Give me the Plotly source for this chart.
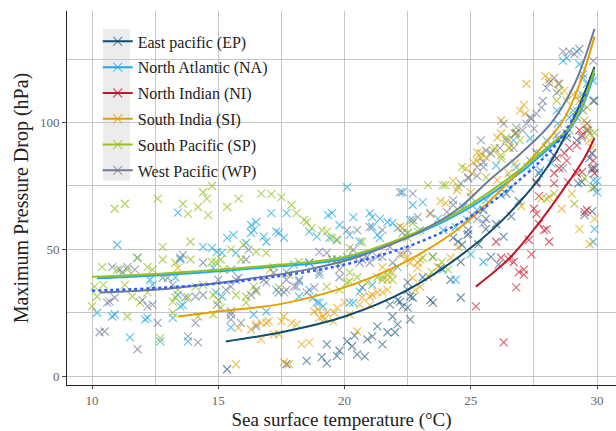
import plotly.graph_objects as go

# ---- observations: (sea surface temperature in °C, maximum pressure drop in hPa) ----
EP_POINTS = [
    (15.35, 2.7), (17.7, 4.7), (18.5, 6), (19.1, 7.5), (19.3, 12.5), (19.7, 8), (19.8, 10), (20.1, 13.7),
    (20.3, 11.8), (20.5, 8.6), (20.8, 7.8), (20.9, 14.5), (21.1, 15.7), (21.3, 19.6), (21.5, 12.5),
    (21.7, 17.3), (22.0, 17.3), (22.1, 20.4), (22.6, 22.4), (22.5, 27), (22.2, 29.4), (22.6, 31.4),
    (21.8, 28.2), (22.1, 30), (22.5, 34), (22.7, 31), (20.7, 35), (21.9, 23.5), (22.3, 27.5), (23.5, 29),
    (24.2, 38), (24.6, 45), (23.8, 42.7), (23.1, 39), (22.5, 37), (23.5, 47), (24.9, 56), (24.5, 53),
    (24.3, 54.5), (24.65, 51.8), (24.9, 57.6), (25.6, 62), (25.5, 65.5), (25.3, 52), (25.6, 58), (26.0, 60),
    (26.3, 55), (26.6, 63), (26.9, 69), (25.8, 47), (26.4, 72), (27.6, 76), (27.7, 80), (28.3, 87),
    (28.8, 94), (29.6, 99.6), (29.85, 108.6), (29.8, 88), (29.9, 82), (27.6, 88), (28.0, 90), (29.25, 76),
    (29.5, 63.5), (29.8, 65), (29.7, 86), (29.9, 74.5), (29.4, 76.5), (28.8, 95.7), (29.2, 93), (24.6, 31),
    (23.4, 30), (26.1, 44), (19.3, 5), (20.4, 16),
]
NA_POINTS = [
    (11.0, 51.8), (10.2, 25), (10.8, 23.5), (11.5, 15.3), (12.1, 22.4), (12.7, 13.7), (13.4, 64.5),
    (13.5, 46), (13.2, 23), (13.8, 13.7), (13.5, 27.5), (14.4, 51), (14.95, 49), (14.8, 42.7),
    (15.35, 54.5), (15.6, 55.7), (15.7, 48.6), (16.3, 59.6), (16.4, 57.6), (16.9, 53), (17.1, 64.3),
    (17.3, 57), (17.6, 54.5), (17.7, 64.3), (15.5, 19.2), (16.9, 25.5), (18.2, 37.3), (18.6, 34),
    (18.75, 31), (19.0, 29), (18.6, 44.7), (19.0, 40), (19.4, 54.5), (19.35, 63.5), (19.5, 64.3),
    (20.1, 74.5), (20.35, 62.7), (21.0, 64.3), (21.1, 62.7), (21.4, 62), (21.7, 60.8), (21.9, 60.4),
    (21.4, 54.5), (21.1, 58.8), (20.2, 55.7), (19.8, 59.6), (17.3, 34), (17.7, 41), (16.4, 24.3),
    (18.2, 31.4), (20.35, 29), (20.6, 33.3), (21.1, 36), (14.75, 50.6), (15.15, 48.6), (16.1, 52.5),
    (16.3, 56.5), (10.9, 24.3), (12.2, 23), (12.3, 38), (12.4, 36), (13.4, 32), (13.6, 28), (14.9, 33),
    (15.15, 31.4), (13.3, 39), (11.8, 46.7), (22.3, 72.5), (22.7, 67.5), (18.6, 57), (16.8, 55),
    (17.4, 56.5), (16.5, 60.8), (18.9, 55), (19.7, 53.7), (20.6, 53), (21.3, 55.7), (22.1, 58.4),
    (22.5, 56.5), (18.0, 44), (18.9, 29), (19.15, 27.5), (20.2, 29), (22.1, 43), (23.1, 68.6),
    (22.6, 61.6), (23.7, 62), (23.0, 57.6), (23.9, 57.6), (24.4, 58.8), (24.85, 61.6), (25.25, 65.5),
    (25.6, 69.4), (26.2, 71.4), (26.55, 74), (24.7, 66.7), (30.0, 77), (28.65, 124.3), (28.8, 125.5),
    (29.3, 123), (29.2, 128), (29.45, 117.6), (29.6, 115.3), (28.45, 99.6), (28.9, 102), (28.0, 93),
    (27.75, 87.8), (27.35, 85), (27.25, 82.4), (27.75, 81.2), (28.2, 83.9), (26.8, 82.4), (26.55, 78.4),
    (29.8, 81.2), (29.85, 77.3), (30.0, 72.5), (29.4, 111), (29.05, 104.7), (28.4, 104.7), (27.35, 93.7),
    (26.7, 93), (26.0, 83), (29.85, 116.5), (23.9, 42), (24.4, 38), (25.5, 45), (25.0, 48), (29.9, 58),
    (29.85, 53),
]
NI_POINTS = [
    (25.2, 27.5), (26.3, 13.3), (26.0, 53), (26.2, 46.7), (26.5, 46), (26.6, 47), (26.7, 45), (26.9, 41),
    (26.8, 35), (27.1, 40), (27.1, 42), (27.3, 53.7), (27.4, 48), (27.5, 66), (27.6, 64), (27.7, 60),
    (27.9, 57.6), (28.0, 58), (28.1, 53), (27.7, 71), (28.3, 76), (29.5, 64.7), (29.6, 65.5), (28.4, 86),
    (28.7, 88), (28.9, 90), (29.2, 91), (29.3, 97), (29.4, 95), (28.8, 85), (28.5, 82), (28.3, 80),
    (29.2, 80), (29.4, 80.5), (29.8, 82), (29.85, 85), (29.6, 97), (27.6, 76.5), (28.85, 76.5), (29.9, 80),
]
SI_POINTS = [
    (13.4, 42.7), (15.7, 4.7), (15.8, 19), (16.3, 18.4), (16.5, 20.4), (16.7, 21), (16.9, 21), (17.0, 21.6),
    (16.7, 14.5), (17.2, 16.5), (17.4, 16.5), (17.5, 21.6), (17.8, 4.7), (17.6, 5.5), (17.9, 21),
    (18.1, 20.4), (18.3, 12.5), (18.6, 13.3), (18.8, 25.5), (18.95, 26.3), (19.0, 23), (19.2, 22.4),
    (19.3, 25), (19.6, 25), (19.55, 21.6), (20.0, 29), (20.2, 24.3), (20.5, 17.6), (20.6, 28.2), (20.7, 31),
    (21.0, 31.4), (21.1, 32), (21.5, 33), (21.7, 38), (21.5, 43), (21.9, 40.8), (19.7, 27), (21.3, 33),
    (21.7, 34), (22.3, 58.4), (22.2, 59), (22.6, 44.7), (22.9, 44.7), (22.3, 48), (21.0, 28), (19.15, 23.5),
    (17.6, 23.5), (22.5, 47), (23.0, 46), (22.9, 42.7), (23.3, 39.2), (22.7, 38.8), (23.0, 35.3),
    (23.7, 43), (24.2, 46.7), (24.5, 51), (22.8, 34), (27.2, 115.3), (27.1, 107), (26.95, 104.7),
    (27.15, 103.5), (26.2, 95.7), (26.05, 94), (25.4, 87.8), (25.25, 85), (25.6, 86.3), (25.9, 89),
    (24.8, 81.8), (25.05, 80), (24.3, 77), (24.45, 73.3), (26.05, 77.3), (26.5, 80), (26.75, 83.9),
    (26.8, 95.7), (26.55, 90), (27.95, 118.4), (28.1, 117), (28.45, 115.3), (29.05, 111), (29.3, 108.6),
    (29.5, 100.8), (29.7, 93), (29.8, 90), (25.1, 84.3), (25.25, 88.2), (25.0, 72.5), (24.0, 68.2),
    (23.8, 69), (23.4, 64), (28.6, 66), (29.3, 58), (29.7, 52), (27.8, 70), (29.0, 72), (29.9, 62),
    (27.0, 67), (28.1, 70.6), (26.2, 100.8), (26.5, 93), (28.7, 112.5), (29.25, 110.6), (29.6, 98),
]
SP_POINTS = [
    (10.9, 66), (11.3, 68), (12.6, 70), (13.6, 68), (13.8, 64), (14.2, 66.7), (14.4, 72.5), (14.55, 70),
    (14.75, 75), (14.6, 63.5), (15.35, 66.7), (15.8, 70), (16.7, 72), (17.1, 71.8), (17.5, 70.6),
    (17.9, 67.5), (18.1, 64.3), (18.4, 61.6), (18.7, 58.4), (19.3, 57), (19.7, 53.7), (20.2, 50.6),
    (20.7, 53), (18.5, 60.8), (19.1, 57.6), (19.5, 54.5), (13.9, 53), (11.8, 46.7), (10.4, 43),
    (10.1, 35.3), (10.0, 27.5), (10.2, 31.4), (10.45, 36), (11.0, 42), (11.4, 42), (12.2, 43), (12.4, 42),
    (12.8, 46), (13.3, 44.7), (13.9, 46), (14.1, 35.3), (14.4, 36), (11.3, 36), (11.6, 31.4), (11.9, 29),
    (12.2, 33), (11.4, 23.5), (13.3, 31), (13.4, 34), (14.9, 45), (15.2, 42), (15.9, 46), (13.2, 25),
    (13.2, 29.4), (14.2, 23.5), (12.8, 51), (12.7, 15), (14.75, 45), (15.1, 46), (15.5, 50), (16.0, 51.8),
    (16.5, 49), (16.9, 48.6), (17.2, 43), (17.4, 35), (16.4, 35.3), (16.1, 31.4), (15.7, 32), (15.1, 27),
    (14.8, 24.3), (19.8, 44.7), (19.3, 35.3), (19.8, 34), (20.1, 37), (20.5, 39), (20.2, 40.8), (20.9, 37),
    (21.3, 39), (21.5, 38), (21.8, 41), (21.5, 39.2), (21.7, 40), (21.9, 38), (22.5, 54.5), (22.9, 57),
    (20.2, 37.3), (17.8, 40), (18.2, 45), (17.05, 42), (16.5, 33.3), (13.8, 31), (14.8, 32), (15.0, 30),
    (16.1, 29), (23.3, 75.3), (23.9, 75.3), (22.7, 60.4), (22.5, 56.5), (23.5, 47), (23.85, 45),
    (24.1, 42), (23.1, 46.7), (23.45, 41), (24.65, 82.4), (26.2, 85.8), (26.5, 90), (26.95, 93),
    (28.5, 112.5), (28.8, 108.6), (29.4, 107.4), (29.6, 106), (29.7, 95.7), (29.9, 96), (24.0, 75.3),
    (24.5, 74.5), (26.8, 96), (26.4, 94), (28.4, 108.6), (29.2, 104.7), (25.95, 90), (25.4, 86),
    (26.2, 87), (25.6, 78.4), (28.3, 72), (29.1, 68), (29.8, 74), (29.5, 78), (28.0, 70),
]
WP_POINTS = [
    (10.8, 43), (11.1, 42), (11.4, 43), (11.2, 40.8), (11.7, 42), (10.7, 29.4), (10.6, 29), (12.4, 28.2),
    (12.2, 27.5), (12.8, 38.8), (13.6, 47.8), (13.5, 46.7), (13.0, 38.8), (13.2, 36), (14.4, 44.7),
    (15.0, 38), (15.3, 34), (15.5, 42), (15.8, 38.8), (16.1, 46), (16.2, 49.8), (15.5, 35.3), (14.4, 32),
    (13.7, 31), (12.0, 30), (10.3, 17.3), (10.5, 17.6), (11.8, 10.6), (12.6, 21), (13.8, 15.7), (14.1, 21),
    (14.1, 31.4), (14.95, 28.2), (15.5, 25.5), (15.5, 24.3), (15.7, 38), (16.3, 32), (16.5, 34), (16.8, 38),
    (17.2, 40.8), (17.4, 33), (17.7, 38), (18.1, 35.3), (18.5, 33), (18.6, 44.7), (19.0, 49), (19.3, 48.6),
    (19.5, 46), (19.8, 39), (20.1, 47), (20.35, 49.8), (20.7, 46), (21.0, 44.7), (21.3, 47), (21.5, 47),
    (21.8, 51), (21.9, 44.7), (20.5, 57.6), (21.0, 58.8), (21.5, 57.6), (17.7, 34), (16.9, 37), (16.5, 19.6),
    (15.5, 22.4), (15.9, 21), (14.2, 13.3), (20.9, 47), (19.7, 46), (20.1, 57.6), (19.8, 42), (20.6, 44.7),
    (22.2, 48), (22.5, 49.8), (22.7, 61.6), (22.9, 62.7), (18.0, 35.3), (18.2, 38), (17.6, 33), (18.8, 35),
    (19.0, 41), (22.2, 72.5), (22.7, 72), (23.4, 64.3), (24.05, 64.7), (24.3, 67.5), (25.05, 63.5),
    (25.25, 62), (25.5, 60.4), (24.85, 55.7), (22.3, 56.5), (24.3, 69.4), (25.0, 70.6), (24.9, 78),
    (25.25, 79), (28.9, 128), (29.1, 127), (29.3, 129), (28.1, 115.7), (28.3, 117.6), (28.5, 115.3),
    (28.0, 113.7), (28.4, 111.8), (27.8, 106), (27.6, 103.5), (27.85, 108.6), (27.4, 101.5), (27.2, 99.6),
    (27.05, 96.9), (26.75, 95.7), (26.8, 98), (26.4, 93), (26.15, 90), (25.8, 87.8), (25.5, 84.3),
    (25.25, 82.4), (24.9, 78.4), (24.6, 76), (29.45, 119), (29.85, 124.3), (29.9, 108.6), (29.45, 104.7),
    (29.2, 102), (28.9, 97), (28.5, 93), (29.4, 94), (29.8, 87.8), (29.65, 96.8), (28.65, 128),
    (26.3, 99.6), (25.6, 89), (25.4, 93), (28.4, 95), (28.65, 82), (25.5, 82.4), (26.7, 90), (27.5, 97.6),
    (27.35, 102), (10.9, 31),
]

# ---- fitted response curves per basin (sst, fitted drop) ----
EP_FIT = [(15.3, 13.7), (17.5, 17.3), (20.0, 23.5), (22.5, 34), (25.0, 50.6), (26.5, 64), (28.0, 82),
          (29.0, 100), (29.9, 122)]
NA_FIT = [(10.2, 38.6), (12.5, 39.7), (15.0, 41.4), (17.5, 43.4), (20.0, 46.3), (22.9, 56.3), (24.7, 65),
          (26.4, 76), (28.0, 89), (29.1, 100), (29.9, 119.6)]
NI_FIT = [(25.2, 35.3), (26.55, 46.7), (27.7, 60.4), (28.9, 77), (29.5, 86), (29.9, 94)]
SI_FIT = [(13.4, 23.5), (15.0, 25.5), (17.5, 28.5), (20.0, 35), (22.2, 44), (24.5, 58), (26.55, 77),
          (28.6, 100), (29.3, 115), (29.9, 134)]
SP_FIT = [(10.0, 39.2), (12.5, 40.3), (15.0, 42), (17.5, 44), (20.0, 47), (22.9, 57), (24.7, 66),
          (26.36, 77), (28.0, 90), (29.05, 100), (29.9, 121)]
WP_FIT = [(10.3, 33), (13.0, 34.5), (16.3, 38.5), (18.5, 42), (20.2, 46), (21.5, 50.6), (23.0, 57),
          (24.5, 66), (25.7, 77), (27.0, 88), (28.2, 100), (29.1, 115), (29.9, 137)]
ALL_FIT = [(10.0, 33.7), (13.0, 35), (16.3, 38), (20.0, 44), (23.0, 53), (25.0, 63), (27.0, 78),
           (28.5, 93), (29.6, 112.5)]

BASINS = ["East pacific (EP)", "North Atlantic (NA)", "North Indian (NI)",
          "South India (SI)", "South Pacific (SP)", "West Pacific (WP)"]
POINTS = [EP_POINTS, NA_POINTS, NI_POINTS, SI_POINTS, SP_POINTS, WP_POINTS]
FITS = [EP_FIT, NA_FIT, NI_FIT, SI_FIT, SP_FIT, WP_FIT]
COLORS = ["#0f4c72", "#22aae6", "#c4162a", "#e69f00", "#95c11f", "#6e7b98"]
MARKER_RGBA = ["rgba(15,76,114,0.6)", "rgba(34,170,230,0.7)", "rgba(196,22,42,0.65)",
               "rgba(230,159,0,0.65)", "rgba(149,193,31,0.7)", "rgba(110,123,152,0.65)"]

FONT = "Liberation Serif, Times New Roman, serif"
GRID = "#c6c6c6"

fig = go.Figure()

# scatter clouds
for name, pts, mc in zip(BASINS, POINTS, MARKER_RGBA):
    fig.add_trace(go.Scatter(
        x=[p[0] for p in pts], y=[p[1] for p in pts], mode="markers",
        marker=dict(symbol="x-thin", size=8, line=dict(width=1.2, color=mc)),
        legendgroup=name, showlegend=False, hoverinfo="skip"))

# fitted curves
for name, fit, col in zip(BASINS, FITS, COLORS):
    fig.add_trace(go.Scatter(
        x=[p[0] for p in fit], y=[p[1] for p in fit], mode="lines",
        line=dict(color=col, width=2, shape="spline", smoothing=1.0),
        legendgroup=name, showlegend=False, hoverinfo="skip"))

# pooled fit
fig.add_trace(go.Scatter(
    x=[p[0] for p in ALL_FIT], y=[p[1] for p in ALL_FIT], mode="lines",
    line=dict(color="#2f5ef5", width=2.5, dash="dot", shape="spline", smoothing=1.0),
    showlegend=False, hoverinfo="skip"))

# legend keys
for name, col, mc in zip(BASINS, COLORS, MARKER_RGBA):
    fig.add_trace(go.Scatter(
        x=[None], y=[None], mode="lines+markers", name=name, legendgroup=name,
        line=dict(color=col, width=2),
        marker=dict(symbol="x-thin", size=9, line=dict(width=1.2, color=mc))))

X0, X1 = 9.01, 30.75
Y0, Y1 = -3.5, 144

fig.update_layout(
    width=616, height=431,
    margin=dict(l=67, r=0, t=11, b=46),
    plot_bgcolor="white", paper_bgcolor="white",
    font=dict(family=FONT, color="#222"),
    showlegend=True,
    legend=dict(
        x=0.056, y=0.964, xanchor="left", yanchor="top",
        bgcolor="rgba(0,0,0,0)", font=dict(family=FONT, size=16, color="#222"),
        traceorder="grouped", tracegroupgap=2, itemwidth=30),
    shapes=[
        dict(type="rect", xref="paper", yref="paper", x0=0.0656, x1=0.2787, y0=0.547, y1=0.952,
             fillcolor="white", line=dict(width=0), layer="between"),
        dict(type="rect", xref="paper", yref="paper", x0=0.0656, x1=0.1148, y0=0.547, y1=0.952,
             fillcolor="#ececec", line=dict(width=0), layer="between"),
    ],
    xaxis=dict(
        range=[X0, X1], tickvals=[10, 15, 20, 25, 30], showgrid=True, gridcolor=GRID, gridwidth=1,
        minor=dict(tickvals=[12.5, 17.5, 22.5, 27.5], showgrid=True, gridcolor=GRID, gridwidth=1),
        zeroline=False, showline=True, linecolor="#222", linewidth=1,
        ticks="outside", ticklen=3, tickcolor="#444",
        tickfont=dict(family=FONT, size=13, color="#666"),
        title=dict(text="Sea surface temperature (°C)", font=dict(family=FONT, size=19, color="#222"),
                   standoff=8)),
    yaxis=dict(
        range=[Y0, Y1], tickvals=[0, 50, 100], showgrid=True, gridcolor=GRID, gridwidth=1,
        minor=dict(tickvals=[25, 75, 125], showgrid=True, gridcolor=GRID, gridwidth=1),
        zeroline=False, showline=True, linecolor="#222", linewidth=1,
        ticks="outside", ticklen=4, tickcolor="#444",
        tickfont=dict(family=FONT, size=13, color="#666"),
        title=dict(text="Maximum Pressure Drop (hPa)", font=dict(family=FONT, size=20, color="#222"),
                   standoff=5)),
)

fig.write_html("out.html")
